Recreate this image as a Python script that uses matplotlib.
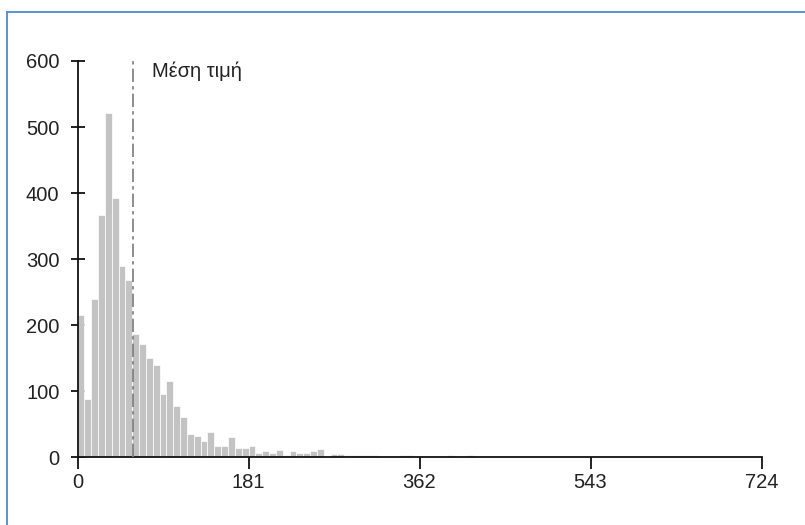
import numpy as np
import matplotlib.pyplot as plt
from matplotlib.lines import Line2D

# Histogram data (100 bins over 0..724)
x_max = 724
n_bins = 100
counts_head = [215, 88, 240, 367, 522, 392, 289, 269, 187, 171,
               150, 139, 96, 115, 77, 61, 36, 33, 25, 38,
               17, 17, 30, 14, 14, 17, 6, 9, 7, 11,
               3, 9, 7, 7, 9, 12, 1, 5, 5, 4,
               4, 3, 4, 3, 0, 1, 0, 3, 4, 2,
               0, 0, 0, 0, 3, 0, 0, 3]
counts = counts_head + [0] * (n_bins - len(counts_head))
x_ticks = [0, 181, 362, 543, 724]
y_ticks = [0, 100, 200, 300, 400, 500, 600]
mean_value = 59
mean_label = "Μέση τιμή"

plt.rcParams['font.family'] = ['Liberation Sans', 'DejaVu Sans']

W, H = 805, 525
fig = plt.figure(figsize=(W / 100, H / 100), dpi=100)
ax = fig.add_axes([77.5 / W, 1 - 457.3 / H, 684 / W, 396.3 / H])

bin_w = x_max / n_bins
edges = np.arange(n_bins) * bin_w
ax.bar(edges, counts, width=bin_w, align='edge', color='#c3c3c3',
       edgecolor='white', linewidth=0.5, zorder=2)

# mean line
ax.plot([mean_value, mean_value], [0, 600], color='#7a7a7a', lw=1.2,
        linestyle=(0, (8, 2.5, 2, 2.5)), zorder=3)
ax.text(mean_value + 20, 585, mean_label, fontsize=14.5, va='center',
        ha='left', color='#222222')

ax.set_xlim(0, x_max)
ax.set_ylim(0, 600)
ax.set_xticks(x_ticks)
ax.set_yticks(y_ticks)
for s in ['top', 'right']:
    ax.spines[s].set_visible(False)
for s in ['left', 'bottom']:
    ax.spines[s].set_linewidth(1.3)
    ax.spines[s].set_color('#111111')
ax.tick_params(axis='x', direction='out', length=8.6, width=1.3,
               labelsize=14.5, pad=3, colors='#111111', labelcolor='#222222')
ax.tick_params(axis='y', direction='inout', length=10, width=1.3,
               labelsize=14.5, pad=8, colors='#111111', labelcolor='#222222')

# blue frame around the picture (top and left edges visible)
fig.add_artist(Line2D([6.5 / W, 1], [1 - 12 / H, 1 - 12 / H],
                      transform=fig.transFigure, color='#5f8fd0', lw=1.4))
fig.add_artist(Line2D([7 / W, 7 / W], [0, 1 - 12 / H],
                      transform=fig.transFigure, color='#5f8fd0', lw=1.4))

fig.savefig('out.png', dpi=100)
